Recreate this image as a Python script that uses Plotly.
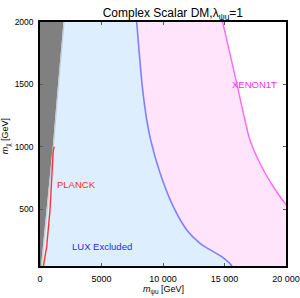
import plotly.graph_objects as go

# --- data (GeV) ---
lux_x = [7860, 8070, 8320, 8680, 9000, 9760, 10840, 11930, 13010, 14090, 14770, 15590, 15700]
lux_y = [2000, 1750, 1480, 1214, 1054, 790, 520, 334, 227, 160, 120, 46, 0]
xenon_x = [14850, 15990, 16530, 17070, 17720, 18300, 18970, 19920, 20600]
xenon_y = [2000, 1510, 1270, 1054, 900, 790, 680, 547, 470]
gray_x = [40, 80, 570, 1060, 1460, 1950, 2000]
gray_y = [0, 46, 534, 1022, 1494, 2000, 2100]
planck_x = [270, 545, 813, 1081, 1163]
planck_y = [40, 200, 494, 974, 1000]

x_ticks = [0, 5000, 10000, 15000, 20000]
x_ticktext = ["0", "5000", "10 000", "15 000", "20 000"]
y_ticks = [500, 1000, 1500, 2000]
y_ticktext = ["500", "1000", "1500", "2000"]

fig = go.Figure()

# light blue (LUX excluded) region
fig.add_trace(go.Scatter(
    x=[-500, lux_x[0]] + lux_x + [-500], y=[2100, 2100] + lux_y + [0],
    fill="toself", fillcolor="rgb(221,238,255)", line=dict(width=0, shape="spline"),
    mode="lines", hoverinfo="skip", showlegend=False))
# pink (XENON1T) region
px = [lux_x[0]] + lux_x + [20600] + xenon_x[::-1] + [xenon_x[0]]
py = [2100] + lux_y + [0] + xenon_y[::-1] + [2100]
fig.add_trace(go.Scatter(
    x=px, y=py, fill="toself", fillcolor="rgb(255,228,252)",
    line=dict(width=0, shape="spline", smoothing=0.8), mode="lines",
    hoverinfo="skip", showlegend=False))
# gray region
fig.add_trace(go.Scatter(
    x=[-500] + gray_x + [-500], y=[0] + gray_y + [2100],
    fill="toself", fillcolor="rgb(128,128,128)", line=dict(width=0), mode="lines",
    hoverinfo="skip", showlegend=False))
# light gray edge
fig.add_trace(go.Scatter(
    x=[v + 45 for v in gray_x], y=gray_y, mode="lines",
    line=dict(color="rgb(200,205,212)", width=1.2), hoverinfo="skip", showlegend=False))
# boundary lines
fig.add_trace(go.Scatter(x=lux_x, y=lux_y, mode="lines",
                         line=dict(color="rgb(128,128,255)", width=1.6, shape="spline", smoothing=0.8),
                         hoverinfo="skip", showlegend=False))
fig.add_trace(go.Scatter(x=xenon_x, y=xenon_y, mode="lines",
                         line=dict(color="rgb(255,102,255)", width=1.4, shape="spline", smoothing=0.8),
                         hoverinfo="skip", showlegend=False))
fig.add_trace(go.Scatter(x=planck_x, y=planck_y, mode="lines",
                         line=dict(color="rgb(255,51,51)", width=1.4),
                         hoverinfo="skip", showlegend=False))

font_main = "Liberation Sans, Arial, sans-serif"
fig.add_annotation(x=3000, y=702, text="PLANCK", showarrow=False,
                   font=dict(family=font_main, size=9.5, color="rgb(255,40,40)"))
fig.add_annotation(x=5015, y=200, text="LUX Excluded", showarrow=False,
                   font=dict(family=font_main, size=9.5, color="rgb(40,40,255)"))
fig.add_annotation(x=17450, y=1500, text="XENON1T", showarrow=False,
                   font=dict(family=font_main, size=9.5, color="rgb(255,40,255)"))

# axis titles
fig.add_annotation(xref="paper", yref="paper", x=0.5, y=-0.098, yanchor="middle",
                   text="<i>m</i><sub>ψ</sub><sub>u</sub> [GeV]",
                   showarrow=False, font=dict(family=font_main, size=9, color="black"))
fig.add_annotation(xref="paper", yref="paper", x=-0.14, xanchor="center", y=0.53,
                   text="<i>m</i><sub>χ</sub> [GeV]", showarrow=False, textangle=-90,
                   font=dict(family=font_main, size=9, color="black"))

fig.update_layout(
    width=300, height=298,
    margin=dict(l=40, r=14, t=22, b=32, autoexpand=False),
    paper_bgcolor="white", plot_bgcolor="white",
    title=dict(text="Complex Scalar DM,λ<sub>ψ</sub><sub>u</sub>=1",
               x=0.54, xanchor="center", y=1 - 13 / 298, yanchor="middle",
               yref="container", xref="paper", automargin=False,
               font=dict(family=font_main, size=12, color="black")),
    font=dict(family=font_main, size=9, color="black"),
)
fig.update_xaxes(range=[0, 20000], tickvals=x_ticks, ticktext=x_ticktext,
                 showgrid=False, zeroline=False, showline=True, linecolor="black",
                 linewidth=1.5, mirror="ticks", ticks="inside", ticklen=3,
                 tickcolor="rgb(90,90,90)", ticklabelstandoff=3, automargin=False,
                 tickfont=dict(family=font_main, size=9))
fig.update_yaxes(range=[45, 2000], tickvals=y_ticks, ticktext=y_ticktext,
                 showgrid=False, zeroline=False, showline=True, linecolor="black",
                 linewidth=1.5, mirror="ticks", ticks="inside", ticklen=3,
                 tickcolor="rgb(90,90,90)", ticklabelstandoff=3, automargin=False,
                 tickfont=dict(family=font_main, size=8.5))

fig.write_html("out.html", config={"displayModeBar": False},
               post_script="document.body.style.margin='0';document.body.style.padding='0';")
